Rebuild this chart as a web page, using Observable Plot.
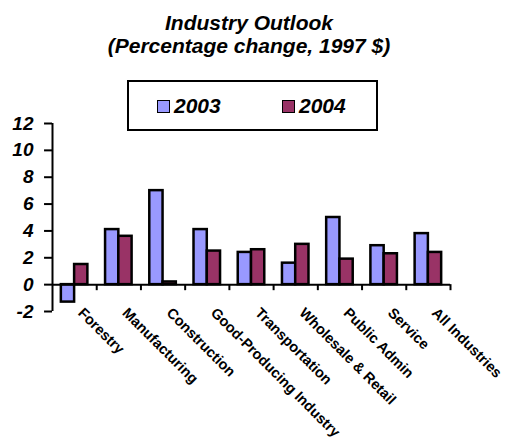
<!DOCTYPE html>
<html>
<head>
<meta charset="utf-8">
<script src="https://cdn.jsdelivr.net/npm/d3@7"></script>
<script src="https://cdn.jsdelivr.net/npm/@observablehq/plot@0.6"></script>
<style>
  html, body { margin: 0; padding: 0; background: #fff; }
  #chart { position: relative; width: 508px; height: 443px; font-family: "Liberation Sans", Arial, sans-serif; }
  #chart svg { position: absolute; left: 0; top: 0; }
  #title {
    position: absolute; left: 0; top: 11px; width: 498px; text-align: center;
    font-size: 21px; line-height: 23px; font-weight: bold; font-style: italic; color: #000;
  }
  #legend {
    position: absolute; left: 127px; top: 80px; width: 247px; height: 47px;
    border: 2px solid #000; background: #fff;
    font-size: 21px; font-weight: bold; font-style: italic;
  }
  .item { position: absolute; top: 12px; display: flex; align-items: center; }
  .swatch { width: 11px; height: 11px; border: 1.5px solid #000; margin-right: 4px; }
</style>
</head>
<body>
<div id="chart">
  <div id="title">Industry Outlook<br>(Percentage change, 1997 $)</div>
  <div id="legend"></div>
</div>
<script>
// Industry outlook: percentage change by industry, 2003 vs 2004
const categories = [
  "Forestry", "Manufacturing", "Construction", "Good-Producing Industry",
  "Transportation", "Wholesale & Retail", "Public Admin", "Service", "All Industries"
];
const values2003 = [-1.3, 4.1, 7.0, 4.1, 2.4, 1.6, 5.0, 2.9, 3.8];
const values2004 = [1.5, 3.6, 0.2, 2.5, 2.6, 3.0, 1.9, 2.3, 2.4];
const years = ["2003", "2004"];
const colors = ["#9999FF", "#993366"];
const yTicks = [-2, 0, 2, 4, 6, 8, 10, 12];

const rows = categories.flatMap((category, i) => [
  {category, i, year: years[0], value: values2003[i]},
  {category, i, year: years[1], value: values2004[i]}
]);

// each category occupies one unit; the pair of bars sits in its middle
const barStart = {"2003": 0.2, "2004": 0.5};
const barWidth = 0.3;
const font = "'Liberation Sans', Arial, sans-serif";

const chart = Plot.plot({
  width: 508,
  height: 443,
  marginTop: 123,
  marginBottom: 132,
  marginLeft: 52,
  marginRight: 58,
  style: {fontFamily: font, fontWeight: "bold", color: "#000", background: "#fff"},
  x: {type: "linear", domain: [0, categories.length], axis: null},
  y: {domain: [-2, 12], axis: null},
  color: {domain: years, range: colors},
  marks: [
    Plot.rectY(rows, {
      x1: d => d.i + barStart[d.year],
      x2: d => d.i + barStart[d.year] + barWidth,
      y: "value",
      fill: "year",
      stroke: "#000",
      strokeWidth: 2.5
    }),
    // value axis: line, outward ticks and italic labels
    Plot.ruleX([0], {stroke: "#000", strokeWidth: 2}),
    Plot.ruleY(yTicks, {x1: -0.18, x2: 0, stroke: "#000", strokeWidth: 2}),
    Plot.text(yTicks, {
      y: d => d,
      frameAnchor: "left",
      textAnchor: "end",
      dx: -19,
      text: d => String(d),
      fontSize: 19,
      fontStyle: "italic",
      fontWeight: "bold",
      fontFamily: font
    }),
    // category axis along zero, ticks between categories
    Plot.ruleY([0], {stroke: "#000", strokeWidth: 2}),
    Plot.ruleX(d3.range(1, categories.length + 1), {y1: 0, y2: -0.45, stroke: "#000", strokeWidth: 2}),
    Plot.text(categories, {
      x: (d, i) => i + 0.5,
      frameAnchor: "bottom",
      rotate: 45,
      textAnchor: "start",
      lineAnchor: "top",
      dx: 10,
      dy: -5,
      fontSize: 14.5,
      fontStyle: "normal",
      fontWeight: "bold",
      fontFamily: font
    })
  ]
});
document.getElementById("chart").prepend(chart);

// legend for the two years
const legend = document.getElementById("legend");
const itemLeft = [28, 153];
years.forEach((year, k) => {
  const item = document.createElement("div");
  item.className = "item";
  item.style.left = itemLeft[k] + "px";
  const sw = document.createElement("div");
  sw.className = "swatch";
  sw.style.background = colors[k];
  const label = document.createElement("span");
  label.textContent = year;
  item.append(sw, label);
  legend.append(item);
});
</script>
</body>
</html>
